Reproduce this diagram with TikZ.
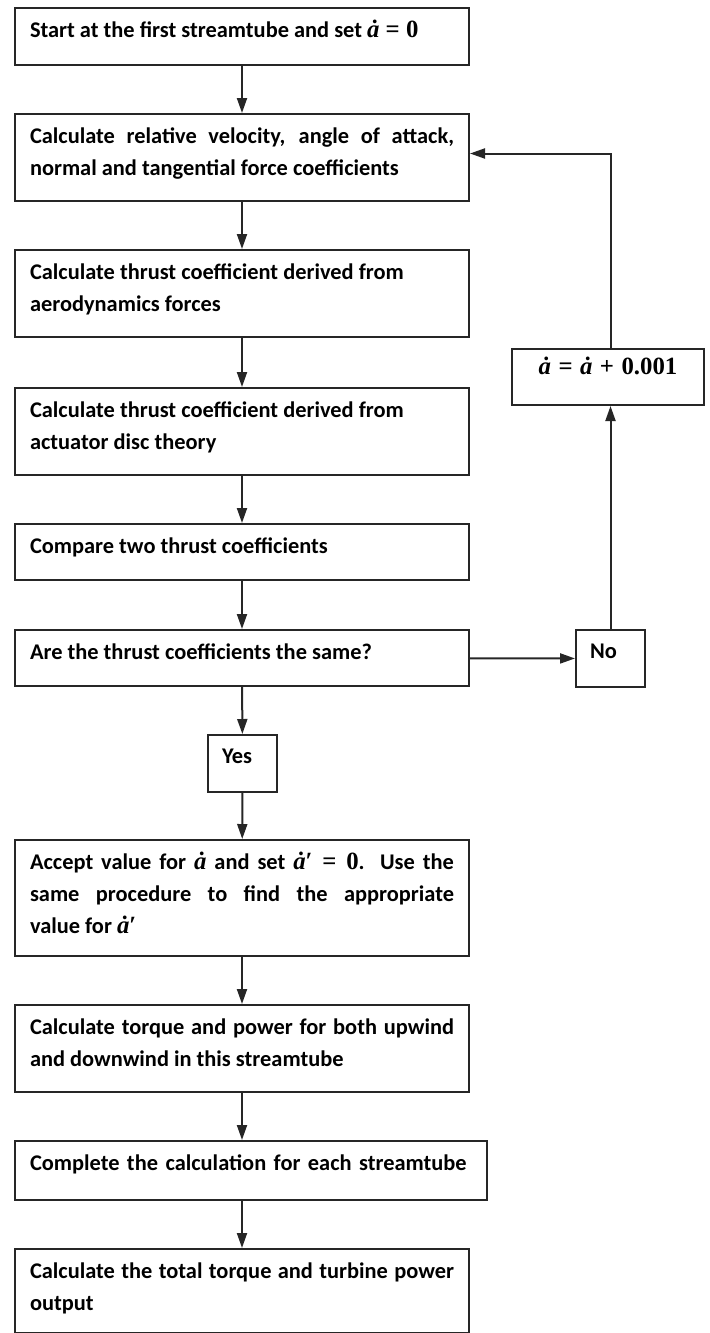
\documentclass[tikz,border=0pt]{standalone}
\usepackage{fontspec}
\setmainfont{Carlito}
\newfontfamily\mathserif{Liberation Serif}
\usetikzlibrary{arrows.meta}

% bold serif for the formulas, as in the reference
\newcommand{\mexpr}[1]{{\mathserif\bfseries\fontsize{12.4}{16}\selectfont #1}}
\newcommand{\adot}{{\itshape\.a}}

\tikzset{
  stepbox/.style={draw=black!85, line width=1pt, anchor=north west, inner xsep=7.5pt, inner ysep=0pt,
    text width=212pt, align=justify, text height=14.5pt,
    font=\bfseries\fontsize{11.2}{16}\selectfont},
  smallbox/.style={stepbox, inner xsep=7pt, text width=20.5pt, align=left, text height=14pt, text depth=14.5pt},
  flow/.style={draw=black!85, line width=1pt, -{Triangle[length=7.5pt,width=5pt]}},
}

\begin{document}
\begin{tikzpicture}[x=0.5pt, y=-0.5pt]
    \useasboundingbox (0,0) rectangle (709,1333);

    \node[stepbox, text depth=14pt] (start) at (14,7) {Start at the first streamtube and set \mexpr{\adot{} = 0}};
    \node[stepbox, text depth=29pt] (relvel) at (14,113) {Calculate relative velocity, angle of attack,\linebreak normal and tangential force coefficients};
    \node[stepbox, text depth=29pt] (ctaero) at (14,249) {Calculate thrust coefficient derived from\newline aerodynamics forces};
    \node[stepbox, text depth=29pt] (ctdisc) at (14,387) {Calculate thrust coefficient derived from\newline actuator disc theory};
    \node[stepbox, text depth=13.5pt] (compare) at (14,523) {Compare two thrust coefficients};
    \node[stepbox, text depth=13.5pt] (same) at (14,629) {Are the thrust coefficients the same?};
    \node[smallbox] (yes) at (207,734) {Yes};
    \node[stepbox, text depth=43.5pt] (accept) at (14,839) {Accept value for \mexpr{\adot} and set \mexpr{\adot′ = 0}. Use the\linebreak same procedure to find the appropriate\linebreak value for \mexpr{\adot′}};
    \node[stepbox, text depth=29pt] (torque) at (14,1004) {Calculate torque and power for both upwind\linebreak and downwind in this streamtube};
    \node[stepbox, text depth=15pt, text width=221pt, align=left] (each) at (14,1140) {Complete the calculation for each streamtube};
    \node[stepbox, text depth=27.5pt] (total) at (14,1248) {Calculate the total torque and turbine power\linebreak output};

    % loop back when the coefficients differ
    \node[smallbox] (no) at (575,629) {No};
    \node[stepbox, text width=81pt, align=center, text height=12.5pt, text depth=15.5pt] (incr) at (511,348) {\mexpr{\adot{} = \adot{} + 0.001}};

    \draw[flow] (start) -- (relvel);
    \draw[flow] (relvel) -- (ctaero);
    \draw[flow] (ctaero) -- (ctdisc);
    \draw[flow] (ctdisc) -- (compare);
    \draw[flow] (compare) -- (same);
    \draw[flow] (same) -- (yes);
    \draw[flow] (yes) -- (accept);
    \draw[flow] (accept) -- (torque);
    \draw[flow] (torque.south) -- (torque.south |- each.north);
    \draw[flow] (torque.south |- each.south) -- (total.north);

    \draw[flow] (same) -- (no);
    \draw[flow] (no.north) -- (no.north |- incr.south);
    \draw[flow] (no.north |- incr.north) |- ([yshift=2pt]relvel.east);
\end{tikzpicture}
\end{document}
